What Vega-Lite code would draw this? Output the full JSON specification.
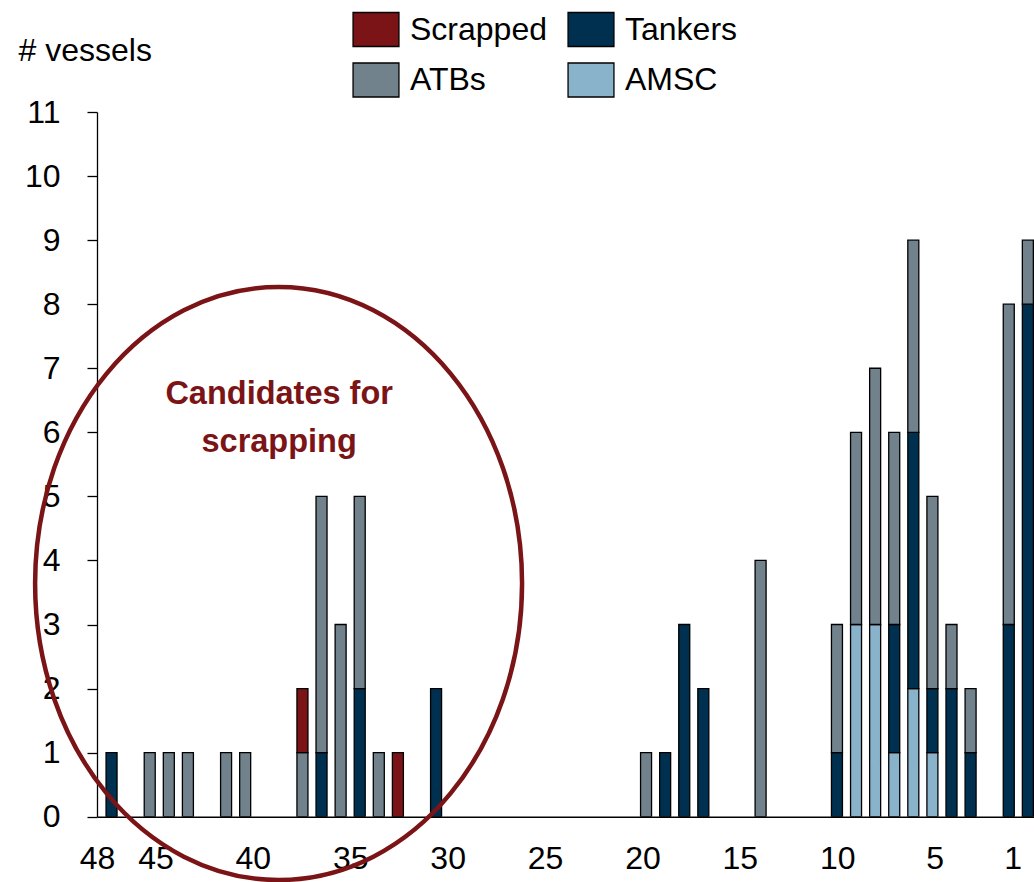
{
  "$schema": "https://vega.github.io/schema/vega-lite/v6.json",
  "autosize": "none",
  "width": 937,
  "height": 704.7,
  "padding": {"left": 97, "top": 112, "right": 0, "bottom": 65.3},
  "background": "white",
  "config": {
    "view": {"stroke": null},
    "font": "Liberation Sans",
    "axis": {"labelFont": "Liberation Sans", "titleFont": "Liberation Sans", "labelColor": "black", "titleColor": "black"},
    "legend": {"labelFont": "Liberation Sans"}
  },
  "data": {
    "values": [
      {"age": 48, "type": "Tankers", "n": 1},
      {"age": 46, "type": "ATBs", "n": 1},
      {"age": 45, "type": "ATBs", "n": 1},
      {"age": 44, "type": "ATBs", "n": 1},
      {"age": 42, "type": "ATBs", "n": 1},
      {"age": 41, "type": "ATBs", "n": 1},
      {"age": 38, "type": "ATBs", "n": 1},
      {"age": 38, "type": "Scrapped", "n": 1},
      {"age": 37, "type": "Tankers", "n": 1},
      {"age": 37, "type": "ATBs", "n": 4},
      {"age": 36, "type": "ATBs", "n": 3},
      {"age": 35, "type": "Tankers", "n": 2},
      {"age": 35, "type": "ATBs", "n": 3},
      {"age": 34, "type": "ATBs", "n": 1},
      {"age": 33, "type": "Scrapped", "n": 1},
      {"age": 31, "type": "Tankers", "n": 2},
      {"age": 20, "type": "ATBs", "n": 1},
      {"age": 19, "type": "Tankers", "n": 1},
      {"age": 18, "type": "Tankers", "n": 3},
      {"age": 17, "type": "Tankers", "n": 2},
      {"age": 14, "type": "ATBs", "n": 4},
      {"age": 10, "type": "Tankers", "n": 1},
      {"age": 10, "type": "ATBs", "n": 2},
      {"age": 9, "type": "AMSC", "n": 3},
      {"age": 9, "type": "ATBs", "n": 3},
      {"age": 8, "type": "AMSC", "n": 3},
      {"age": 8, "type": "ATBs", "n": 4},
      {"age": 7, "type": "AMSC", "n": 1},
      {"age": 7, "type": "Tankers", "n": 2},
      {"age": 7, "type": "ATBs", "n": 3},
      {"age": 6, "type": "AMSC", "n": 2},
      {"age": 6, "type": "Tankers", "n": 4},
      {"age": 6, "type": "ATBs", "n": 3},
      {"age": 5, "type": "AMSC", "n": 1},
      {"age": 5, "type": "Tankers", "n": 1},
      {"age": 5, "type": "ATBs", "n": 3},
      {"age": 4, "type": "Tankers", "n": 2},
      {"age": 4, "type": "ATBs", "n": 1},
      {"age": 3, "type": "Tankers", "n": 1},
      {"age": 3, "type": "ATBs", "n": 1},
      {"age": 1, "type": "Tankers", "n": 3},
      {"age": 1, "type": "ATBs", "n": 5},
      {"age": 0, "type": "Tankers", "n": 8},
      {"age": 0, "type": "ATBs", "n": 1}
    ]
  },
  "resolve": {"scale": {"x": "independent"}, "axis": {"x": "independent"}},
  "layer": [
    {
      "layer": [
        {
          "mark": {"type": "bar", "width": 11, "stroke": "black", "strokeWidth": 1.3, "clip": true},
          "encoding": {
            "x": {
              "field": "age",
              "type": "quantitative",
              "scale": {"domain": [-0.06, 48.5], "reverse": true, "nice": false, "zero": false},
              "axis": null
            },
            "y": {
              "field": "n",
              "type": "quantitative",
              "stack": "zero",
              "scale": {"domain": [0, 11], "nice": false},
              "axis": {
                "values": [0, 1, 2, 3, 4, 5, 6, 7, 8, 9, 10, 11],
                "format": "d",
                "grid": false,
                "domainColor": "black",
                "domainWidth": 1.3,
                "tickColor": "black",
                "tickWidth": 1.3,
                "tickSize": 10,
                "labelFontSize": 32,
                "labelPadding": 27,
                "title": "# vessels",
                "titleFontSize": 32,
                "titleFontWeight": "normal",
                "titleAngle": 0,
                "titleAlign": "left",
                "titleBaseline": "alphabetic",
                "titleX": -79,
                "titleY": -52
              }
            },
            "order": {"field": "age"},
            "color": {
              "field": "type",
              "type": "nominal",
              "scale": {
                "domain": ["Scrapped", "Tankers", "ATBs", "AMSC"],
                "range": ["#7B1416", "#00304F", "#72828C", "#88B3CB"]
              },
              "legend": {
                "title": null,
                "orient": "none",
                "legendX": 261,
                "legendY": -100.7,
                "columns": 2,
                "direction": "horizontal",
                "padding": 0,
                "symbolType": "M-1.35,-1H1.35V1H-1.35Z",
                "symbolSize": 1156,
                "symbolStrokeColor": "black",
                "symbolStrokeWidth": 1.3,
                "symbolOpacity": 1,
                "labelFontSize": 32,
                "labelColor": "black",
                "labelOffset": 16,
                "labelLimit": 300,
                "columnPadding": 18,
                "rowPadding": 10.7
              }
            }
          }
        },
        {
          "data": {"values": [{}]},
          "mark": {
            "type": "point",
            "shape": "M-0.8212,0A0.8212,1,0,1,0,0.8212,0A0.8212,1,0,1,0,-0.8212,0Z",
            "size": 351649,
            "filled": false,
            "stroke": "#7B1416",
            "strokeWidth": 4.5,
            "opacity": 1
          },
          "encoding": {
            "x": {"datum": 39.25, "type": "quantitative"},
            "y": {"datum": 3.64, "type": "quantitative"}
          }
        },
        {
          "data": {"values": [{}]},
          "mark": {
            "type": "text",
            "font": "Liberation Sans",
            "fontSize": 32.5,
            "fontWeight": "bold",
            "color": "#7B1416",
            "align": "center",
            "baseline": "alphabetic",
            "lineHeight": 48
          },
          "encoding": {
            "x": {"datum": 39.22, "type": "quantitative"},
            "y": {"datum": 6.44, "type": "quantitative"},
            "text": {"value": ["Candidates for", "scrapping"]}
          }
        }
      ]
    },
    {
      "mark": {"type": "point", "opacity": 0},
      "encoding": {
        "x": {
          "field": "age",
          "type": "quantitative",
          "scale": {"domain": [-0.1, 48], "reverse": true, "nice": false, "zero": false},
          "axis": {
            "orient": "bottom",
            "values": [48, 45, 40, 35, 30, 25, 20, 15, 10, 5, 1],
            "grid": false,
            "ticks": false,
            "tickSize": 0,
            "domainColor": "black",
            "domainWidth": 1.5,
            "labelFontSize": 32,
            "labelPadding": 27,
            "labelFlush": false,
            "labelOverlap": false,
            "title": null
          }
        }
      }
    }
  ]
}
